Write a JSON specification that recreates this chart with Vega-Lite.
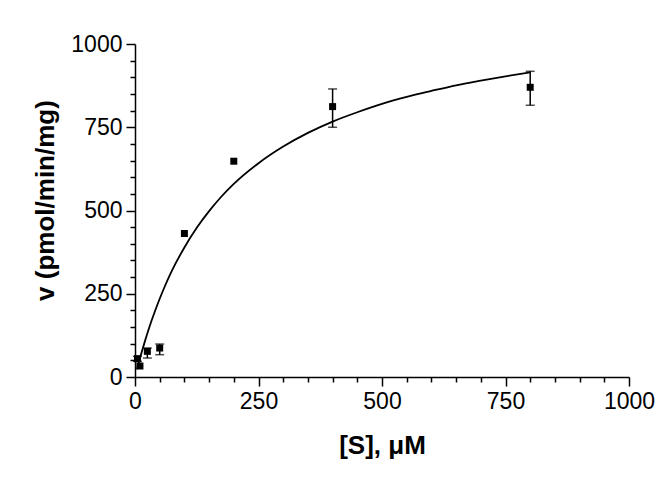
{
  "$schema": "https://vega.github.io/schema/vega-lite/v6.json",
  "width": 494,
  "height": 333,
  "autosize": {"type": "none"},
  "padding": {"left": 135, "top": 44, "right": 41, "bottom": 103},
  "background": "white",
  "config": {
    "view": {"stroke": null},
    "font": "Liberation Sans",
    "axis": {
      "domainColor": "black",
      "domainWidth": 1.5,
      "tickColor": "black",
      "tickWidth": 1.5,
      "grid": false,
      "labelFont": "Liberation Sans",
      "labelFontSize": 23,
      "labelColor": "black",
      "labelPadding": 4,
      "labelFlush": false,
      "labelOverlap": false,
      "titleFont": "Liberation Sans",
      "titleFontSize": 26,
      "titleFontWeight": "bold",
      "titleColor": "black"
    }
  },
  "datasets": {
    "points": [
      {"S": 5, "v": 55, "lo": 47, "hi": 62},
      {"S": 10, "v": 33, "lo": null, "hi": null},
      {"S": 25, "v": 77, "lo": 57, "hi": 87},
      {"S": 50, "v": 87, "lo": 67, "hi": 99},
      {"S": 100, "v": 431, "lo": null, "hi": null},
      {"S": 200, "v": 648, "lo": null, "hi": null},
      {"S": 400, "v": 812, "lo": 750, "hi": 865},
      {"S": 800, "v": 870, "lo": 816, "hi": 918}
    ],
    "fit": [
      {"S": 4, "v": 23},
      {"S": 10, "v": 56},
      {"S": 20, "v": 107},
      {"S": 30, "v": 154},
      {"S": 40, "v": 196},
      {"S": 50, "v": 235},
      {"S": 60, "v": 271},
      {"S": 75, "v": 320},
      {"S": 100, "v": 389},
      {"S": 125, "v": 448},
      {"S": 150, "v": 498},
      {"S": 175, "v": 542},
      {"S": 200, "v": 580},
      {"S": 250, "v": 642},
      {"S": 300, "v": 692},
      {"S": 350, "v": 733},
      {"S": 400, "v": 767},
      {"S": 450, "v": 795},
      {"S": 500, "v": 820},
      {"S": 550, "v": 841},
      {"S": 600, "v": 859},
      {"S": 650, "v": 876},
      {"S": 700, "v": 890},
      {"S": 750, "v": 903},
      {"S": 800, "v": 915}
    ]
  },
  "resolve": {"axis": {"x": "independent", "y": "independent"}},
  "layer": [
    {
      "data": {"name": "fit"},
      "mark": {"type": "line", "color": "black", "strokeWidth": 1.8, "interpolate": "monotone"},
      "encoding": {
        "x": {
          "field": "S", "type": "quantitative", "title": "[S], μM",
          "scale": {"domain": [0, 1000], "nice": false, "zero": false},
          "axis": {
            "orient": "bottom",
            "values": [0, 250, 500, 750, 1000],
            "format": "d",
            "tickSize": 9,
            "titlePadding": 19
          }
        },
        "y": {
          "field": "v", "type": "quantitative", "title": "v (pmol/min/mg)",
          "scale": {"domain": [0, 1000], "nice": false, "zero": false},
          "axis": {
            "orient": "left",
            "values": [0, 250, 500, 750, 1000],
            "format": "d",
            "tickSize": 9,
            "titlePadding": 12,
            "titleY": 156
          }
        }
      }
    },
    {
      "data": {"name": "points"},
      "transform": [{"filter": "isValid(datum.lo)"}],
      "mark": {"type": "errorbar", "color": "black", "thickness": 1.5, "ticks": {"size": 9, "thickness": 1.5, "color": "black"}},
      "encoding": {
        "x": {
          "field": "S", "type": "quantitative",
          "axis": {
            "orient": "bottom",
            "title": null,
            "labels": false,
            "domain": false,
            "tickSize": 5,
            "values": [50,100,150,200,300,350,400,450,550,600,650,700,800,850,900,950]
          }
        },
        "y": {
          "field": "lo", "type": "quantitative",
          "axis": {
            "orient": "left",
            "title": null,
            "labels": false,
            "domain": false,
            "tickSize": 5,
            "values": [50,100,150,200,300,350,400,450,550,600,650,700,800,850,900,950]
          }
        },
        "y2": {"field": "hi"}
      }
    },
    {
      "data": {"name": "points"},
      "mark": {"type": "square", "size": 49, "filled": true, "color": "black", "opacity": 1},
      "encoding": {
        "x": {"field": "S", "type": "quantitative", "axis": null},
        "y": {"field": "v", "type": "quantitative", "axis": null}
      }
    }
  ]
}
